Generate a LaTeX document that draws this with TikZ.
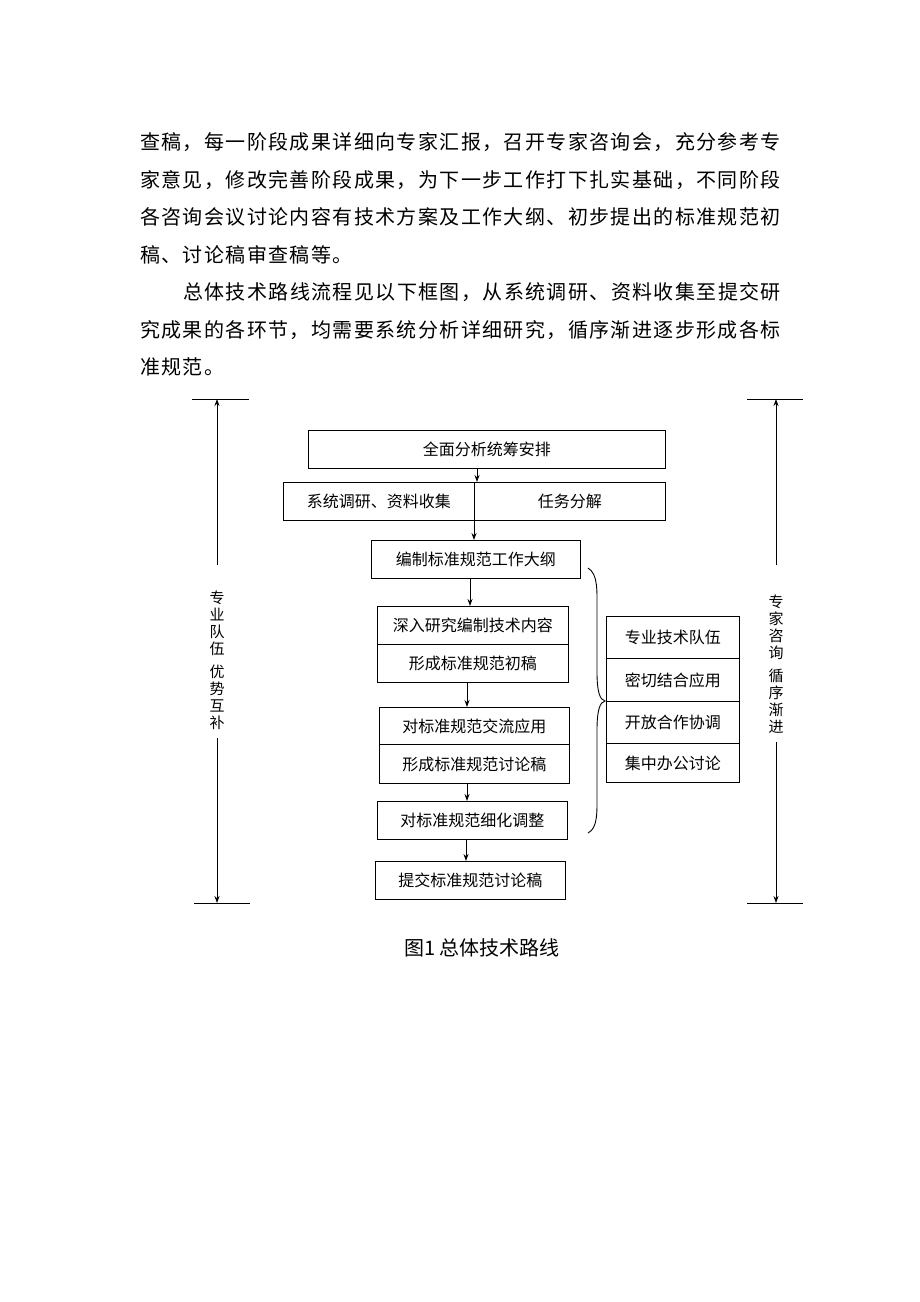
\documentclass[tikz,border=0pt]{standalone}
\usepackage{fontspec}
\setmainfont{Noto Sans CJK SC}
\newfontfamily\body[LetterSpace=7]{Noto Sans CJK SC}
\usetikzlibrary{arrows.meta,decorations.pathreplacing}
\begin{document}
\begin{tikzpicture}[x=1pt,y=-1pt,
  box/.style={draw,line width=0.9pt,anchor=north west,inner sep=0pt,font=\fontsize{16}{16}\selectfont},
  arr/.style={-{Stealth[length=7pt,width=5pt]},line width=0.9pt},
  para/.style={anchor=west,inner sep=0pt,font=\body\fontsize{20}{20}\selectfont},
  vtext/.style={align=center,inner sep=0pt,font=\fontsize{15}{17}\selectfont},
  bar/.style={line width=0.9pt}]
\useasboundingbox[fill=white] (0,0) rectangle (920,1302);
% paragraph
\node[para] (l1) at (140,142) {查稿，每一阶段成果详细向专家汇报，召开专家咨询会，充分参考专};
\node[para] (l2) at (140,180) {家意见，修改完善阶段成果，为下一步工作打下扎实基础，不同阶段};
\node[para] (l3) at (140,217) {各咨询会议讨论内容有技术方案及工作大纲、初步提出的标准规范初};
\node[para] (l4) at (140,255) {稿、讨论稿审查稿等。};
\node[para] (l5) at (183,292) {总体技术路线流程见以下框图，从系统调研、资料收集至提交研};
\node[para] (l6) at (140,330) {究成果的各环节，均需要系统分析详细研究，循序渐进逐步形成各标};
\node[para] (l7) at (140,367) {准规范。};
% boxes
\node[box,minimum width=357pt,minimum height=38pt] (b1) at (308,430) {全面分析统筹安排};
\node[box,minimum width=191pt,minimum height=38pt] (b2a) at (283,482) {系统调研、资料收集};
\node[box,minimum width=191pt,minimum height=38pt] (b2b) at (474,482) {任务分解};
\node[box,minimum width=209pt,minimum height=38pt] (b3) at (371,540) {编制标准规范工作大纲};
\node[box,minimum width=191pt,minimum height=38pt] (b4a) at (377,606) {深入研究编制技术内容};
\node[box,minimum width=191pt,minimum height=38pt] (b4b) at (377,644) {形成标准规范初稿};
\node[box,minimum width=190pt,minimum height=37pt] (b5a) at (379,707) {对标准规范交流应用};
\node[box,minimum width=190pt,minimum height=39pt] (b5b) at (379,744) {形成标准规范讨论稿};
\node[box,minimum width=190pt,minimum height=38pt] (b6) at (377,801) {对标准规范细化调整};
\node[box,minimum width=190pt,minimum height=38pt] (b7) at (375,861) {提交标准规范讨论稿};
\node[box,minimum width=133pt,minimum height=42pt] (r1) at (606,616) {专业技术队伍};
\node[box,minimum width=133pt,minimum height=43pt] (r2) at (606,658) {密切结合应用};
\node[box,minimum width=133pt,minimum height=42pt] (r3) at (606,701) {开放合作协调};
\node[box,minimum width=133pt,minimum height=39pt] (r4) at (606,743) {集中办公讨论};
% arrows
\coordinate (x1) at (477,0);
\coordinate (x2) at (474,0);
\coordinate (x3) at (470,0);
\coordinate (x4) at (467,0);
\coordinate (x5) at (467,0);
\coordinate (x6) at (466,0);
\draw[arr] (b1.south -| x1) -- (b2b.north -| x1);
\draw[arr] (b2b.south west) -- (b3.north -| x2);
\draw[arr] (b3.south -| x3) -- (b4a.north -| x3);
\draw[arr] (b4b.south -| x4) -- (b5a.north -| x4);
\draw[arr] (b5b.south -| x5) -- (b6.north -| x5);
\draw[arr] (b6.south -| x6) -- (b7.north -| x6);
% brace
\coordinate (bt) at (588,568);
\coordinate (bm) at (605,701);
\coordinate (bb) at (588,833);
\draw[line width=0.9pt] (bt) .. controls (598,574) and (597,590) .. (597,610) -- (597,672) .. controls (597,692) and (600,700) .. (bm)
  .. controls (600,702) and (597,710) .. (597,730) -- (597,792) .. controls (597,812) and (598,828) .. (bb);
% side arrows
\coordinate (lt1) at (192,399); \coordinate (lt2) at (249,399);
\coordinate (lb1) at (194,903); \coordinate (lb2) at (250,903);
\coordinate (la) at (217,399); \coordinate (lb) at (217,903);
\draw[bar] (lt1) -- (lt2); \draw[bar] (lb1) -- (lb2);
\node[vtext] (lv) at (217,660) {专\\业\\队\\伍\\[6pt]优\\势\\互\\补};
\draw[arr] (lv.north |- 0,565) -- (la);
\draw[arr] (lv.south |- 0,738) -- (lb);
\coordinate (rt1) at (747,399); \coordinate (rt2) at (803,399);
\coordinate (rb1) at (747,903); \coordinate (rb2) at (803,903);
\coordinate (ra) at (776,399); \coordinate (rb) at (776,903);
\draw[bar] (rt1) -- (rt2); \draw[bar] (rb1) -- (rb2);
\node[vtext] (rv) at (776,664) {专\\家\\咨\\询\\[6pt]循\\序\\渐\\进};
\draw[arr] (rv.north |- 0,565) -- (ra);
\draw[arr] (rv.south |- 0,742) -- (rb);
% caption
\node[inner sep=0pt,font=\fontsize{20}{20}\selectfont] (cap) at (482,948) {图1 总体技术路线};
\end{tikzpicture}
\end{document}
